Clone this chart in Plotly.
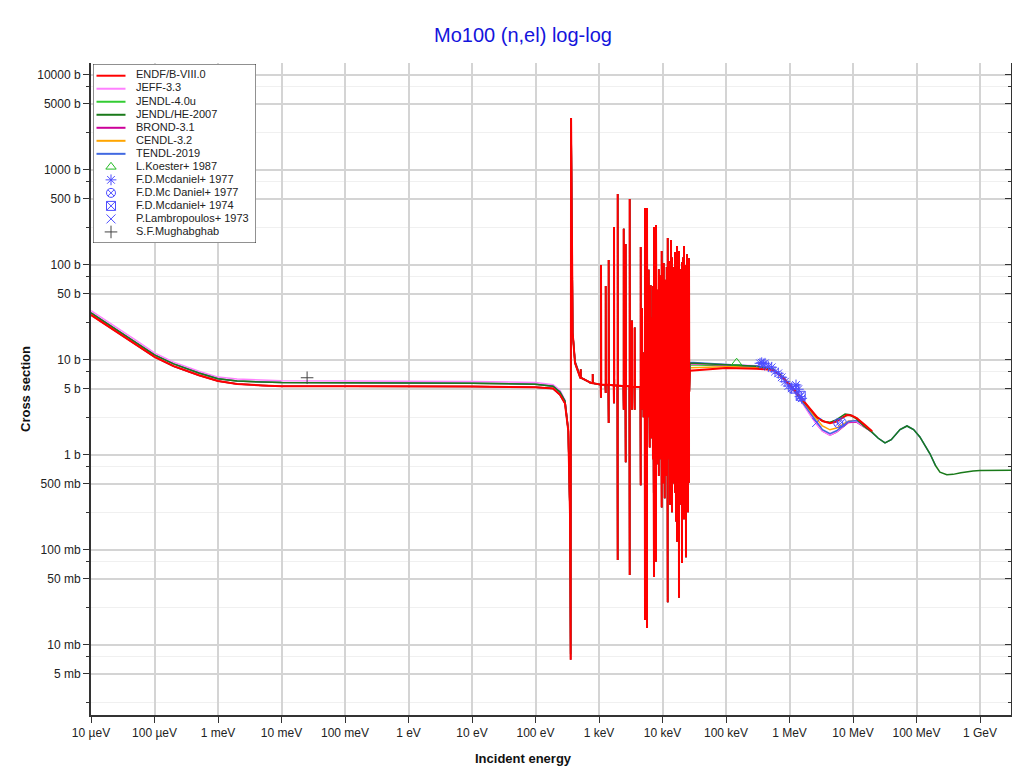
import plotly.graph_objects as go

# ---------------- data ----------------
# low-energy smooth region, energies in eV
low_E = [1e-5, 2e-5, 5e-5, 1e-4, 2e-4, 5e-4, 1e-3, 2e-3, 5e-3, 1e-2, 1e-1, 1, 10, 100,
         189, 243, 291, 328, 349, 358, 363, 385, 419, 502]
endf_low = [29.8, 22.0, 14.7, 10.8, 8.6, 6.9, 6.0, 5.6, 5.4, 5.3, 5.28, 5.27, 5.25, 5.15,
            5.0, 4.3, 3.5, 1.8, 0.245, 0.007, 3520, 19.2, 9.3, 6.6]
jeff_low = [33.0, 24.5, 16.3, 11.9, 9.5, 7.6, 6.6, 6.3, 6.1, 6.05, 6.0, 6.0, 5.95, 5.8,
            5.5, 4.8, 3.8, 1.9, 0.26, 0.008, 3500, 20.0, 9.8, 6.9]
tendl_low = [31.4, 23.2, 15.5, 11.3, 9.1, 7.3, 6.35, 6.0, 5.85, 5.78, 5.76, 5.76, 5.7, 5.55,
             5.3, 4.6, 3.7, 1.85, 0.25, 0.008, 3500, 19.6, 9.6, 6.8]

# resolved resonances: (E_start, E_res, E_end, baseline, dip, peak)  [eV, b]
res_rows = [
    (512, 515, 518, 6.5, 6.4, 8.0),
    (720, 722, 724, 5.8, 5.7, 5.8),
    (792, 796, 800, 5.7, 5.6, 7.1),
    (1064, 1075, 1086, 5.5, 4.0, 100),
    (1262, 1275, 1288, 5.5, 4.5, 60),
    (1405, 1420, 1435, 5.5, 2.17, 113),
    (1705, 1723, 1741, 5.4, 3.5, 251),
    (1950, 1970, 1990, 5.4, 0.0785, 558),
    (2424, 2449, 2474, 5.3, 3.0, 240),
    (2607, 2633, 2659, 5.3, 0.84, 166),
    (3015, 3045, 3075, 5.3, 0.0546, 495),
    (3276, 3309, 3342, 5.2, 3.0, 26),
    (3614, 3650, 3686, 5.2, 3.0, 22),
    (4490, 4536, 4582, 5.2, 0.48, 155),
    (4707, 4755, 4803, 5.2, 3.0, 35),
    (4990, 5022, 5050, 5.1, 2.5, 12),
    (5250, 5302, 5355, 5.1, 0.0183, 398),
    (5470, 5498, 5530, 5.1, 1.8, 30),
    (5640, 5700, 5760, 5.1, 0.0151, 398),
    (6000, 6062, 6120, 5.1, 2.5, 89),
    (6250, 6286, 6320, 5.0, 1.2, 45),
    (6450, 6519, 6580, 5.0, 2.84, 61),
    (6620, 6663, 6700, 5.0, 1.5, 35),
    (6760, 6831, 6900, 5.0, 2.0, 28),
    (7050, 7087, 7120, 5.0, 0.9, 60),
    (7270, 7347, 7420, 5.0, 0.052, 251),
    (7580, 7619, 7660, 5.0, 1.2, 70),
    (7820, 7898, 7980, 5.0, 0.075, 263),
    (8150, 8190, 8230, 5.0, 0.8, 40),
    (8410, 8495, 8580, 5.0, 1.5, 55),
    (8700, 8747, 8790, 4.9, 0.6, 90),
    (8940, 9035, 9120, 4.9, 1.62, 78),
    (9320, 9370, 9420, 4.9, 0.9, 60),
    (9610, 9714, 9810, 4.9, 0.28, 140),
    (10020, 10073, 10120, 4.9, 0.5, 80),
    (10340, 10445, 10550, 4.9, 1.0, 105),
    (10780, 10830, 10880, 4.9, 0.35, 70),
    (11120, 11229, 11340, 4.9, 2.17, 41),
    (11590, 11643, 11700, 4.8, 0.6, 95),
    (11950, 12075, 12200, 4.8, 0.0282, 192),
    (12280, 12340, 12400, 4.8, 0.9, 60),
    (12530, 12660, 12790, 4.8, 1.0, 110),
    (13060, 13130, 13200, 4.8, 0.3, 90),
    (13480, 13613, 13750, 4.8, 0.69, 183),
    (14040, 14110, 14180, 4.8, 0.25, 120),
    (14490, 14636, 14780, 4.8, 0.5, 75),
    (15100, 15180, 15260, 4.8, 0.6, 95),
    (15580, 15738, 15900, 4.8, 0.4, 137),
    (16240, 16320, 16400, 4.7, 0.2, 80),
    (16750, 16920, 17090, 4.7, 0.122, 158),
    (17450, 17540, 17630, 4.7, 0.5, 110),
    (18010, 18190, 18370, 4.7, 0.0314, 140),
    (18670, 18864, 19050, 4.7, 0.3, 57),
    (19460, 19560, 19660, 4.7, 0.4, 90),
    (20080, 20283, 20490, 4.7, 0.073, 107),
    (20920, 21030, 21140, 4.7, 0.5, 120),
    (21590, 21806, 22020, 4.7, 0.21, 158),
    (22500, 22610, 22720, 4.6, 0.3, 85),
    (23210, 23449, 23680, 4.6, 0.084, 100),
    (24190, 24310, 24430, 4.6, 0.4, 130),
    (25080, 25210, 25340, 4.6, 0.25, 90),
    (25880, 26145, 26400, 4.6, 0.51, 118),
]

# fast-neutron region, energies in eV
endf_fast_E = [27e3, 5e4, 1e5, 3e5, 5.56e5, 7.99e5, 1.018e6, 1.462e6, 2.1e6, 2.68e6, 3.3e6,
               4.34e6, 5.5e6, 7.96e6, 9.5e6, 1.14e7, 1.5e7, 1.97e7, 2e7]
endf_fast = [7.7, 8.0, 8.25, 8.1, 7.85, 6.42, 5.46, 4.11, 3.10, 2.53, 2.28,
             2.16, 2.25, 2.64, 2.6, 2.45, 2.1, 1.80, 1.78]

jeff_fast_E = [27e3, 1e5, 3e5, 5.56e5, 7.99e5, 1.018e6, 1.462e6, 2.1e6, 2.68e6, 3.3e6,
               4.34e6, 5.5e6, 8.5e6, 1.14e7, 1.5e7, 2e7]
jeff_fast = [9.2, 9.0, 8.7, 8.0, 6.5, 5.3, 3.85, 2.65, 2.1, 1.78, 1.62, 1.75, 2.25, 2.25, 2.0, 1.75]
brond_fast = [9.1, 8.9, 8.6, 7.95, 6.45, 5.3, 3.9, 2.7, 2.12, 1.79, 1.62, 1.74, 2.2, 2.22, 1.98, 1.74]
cendl_fast = [8.3, 8.5, 8.4, 7.9, 6.5, 5.4, 4.0, 2.9, 2.35, 2.02, 1.84, 1.92, 2.28, 2.3, 2.0, 1.75]
jendl4_fast = [8.9, 8.7, 8.5, 7.9, 6.5, 5.45, 4.1, 3.05, 2.5, 2.27, 2.2, 2.32, 2.65, 2.45, 2.05, 1.76]

tendl_fast_E = [27e3, 1e5, 3e5, 5.56e5, 7.99e5, 1.018e6, 1.462e6, 2.1e6, 2.68e6, 3.3e6, 4.34e6,
                5.5e6, 8.5e6, 1.14e7, 1.5e7, 1.97e7, 2.5e7, 3.19e7, 4e7, 5.5e7, 7.08e7, 9e7,
                1.13e8, 1.63e8, 2e8]
tendl_fast = [9.45, 8.95, 8.6, 8.0, 6.6, 5.4, 3.9, 2.75, 2.2, 1.85, 1.68,
              1.8, 2.25, 2.3, 2.05, 1.75, 1.5, 1.34, 1.45, 1.85, 2.02, 1.85,
              1.55, 1.03, 0.77]

jendlhe_fast_E = [27e3, 1e5, 3e5, 5.56e5, 7.99e5, 1.018e6, 1.462e6, 2.1e6, 2.68e6, 3.5e6, 4.34e6,
                  5.5e6, 7.5e6, 9e6, 1.14e7, 1.5e7, 1.97e7, 2.5e7, 3.19e7, 4e7, 5.5e7, 7.08e7,
                  9e7, 1.13e8, 1.63e8, 2e8, 2.34e8, 3e8, 3.76e8, 5e8, 7.76e8, 1e9, 3.1e9]
jendlhe_fast = [9.3, 8.9, 8.6, 8.0, 6.5, 5.45, 4.05, 3.0, 2.5, 2.25, 2.2,
                2.35, 2.7, 2.65, 2.4, 2.0, 1.75, 1.5, 1.34, 1.45, 1.85, 2.02,
                1.85, 1.55, 1.03, 0.77, 0.66, 0.62, 0.625, 0.65, 0.68, 0.685, 0.69]

# experimental data
mugh_E, mugh_s = [0.0253], [6.5]
koester_E, koester_s = [1.47e5], [9.36]
mcd77_E = [3.43e5, 3.65e5, 3.87e5, 4.11e5, 4.64e5, 5.24e5, 5.91e5, 6.66e5, 7.54e5, 8.49e5,
           9.57e5, 1.083e6, 1.266e6, 1.376e6, 1.463e6, 1.556e6]
mcd77_s = [9.23, 9.36, 9.07, 9.23, 8.5, 8.38, 7.53, 7.24, 6.57, 5.91,
           5.32, 5.03, 5.46, 4.92, 4.11, 3.95]
mcd77b_E, mcd77b_s = [5.87e6, 6.64e6], [2.16, 2.2]
mcd74_E, mcd74_s = [1.2e6, 1.5e6], [5.0, 4.2]
lamb_E, lamb_s = [2.68e6], [2.2]

x_tickvals = [1e-5, 1e-4, 1e-3, 1e-2, 1e-1, 1, 10, 100, 1e3, 1e4, 1e5, 1e6, 1e7, 1e8, 1e9]
x_ticktext = ["10 µeV", "100 µeV", "1 meV", "10 meV", "100 meV", "1 eV", "10 eV", "100 eV",
              "1 keV", "10 keV", "100 keV", "1 MeV", "10 MeV", "100 MeV", "1 GeV"]
y_tickvals = [0.005, 0.01, 0.05, 0.1, 0.5, 1, 5, 10, 50, 100, 500, 1000, 5000, 10000]
y_ticktext = ["5 mb", "10 mb", "50 mb", "100 mb", "500 mb", "1 b", "5 b", "10 b", "50 b",
              "100 b", "500 b", "1000 b", "5000 b", "10000 b"]
y_minor = [0.0025, 0.0075, 0.025, 0.075, 0.25, 0.75, 2.5, 7.5, 25, 75, 250, 750, 2500, 7500]

# ---------------- build curves ----------------
def resonances():
    xs, ys = [], []
    for e0, er, e1, base, dip, peak in res_rows:
        xs += [e0, er, er, e1]
        ys += [base, dip, peak, base]
    return xs, ys

rx, ry = resonances()

def curve(lowy, fE, fy):
    return low_E + rx + fE, lowy + ry + fy

FONT = "Liberation Sans, Arial, sans-serif"
COL = {"ENDF/B-VIII.0": "#ff0000", "JEFF-3.3": "#ff80ff", "JENDL-4.0u": "#33cc33",
       "JENDL/HE-2007": "#1a7a1a", "BROND-3.1": "#cc0099", "CENDL-3.2": "#ffa500",
       "TENDL-2019": "#4169e1"}
# drawing order (last on top)
libs = [
    ("JENDL-4.0u", 1.5, endf_low, jeff_fast_E, jendl4_fast),
    ("BROND-3.1", 1.5, endf_low, jeff_fast_E, brond_fast),
    ("CENDL-3.2", 1.5, tendl_low, jeff_fast_E, cendl_fast),
    ("JEFF-3.3", 1.5, jeff_low, jeff_fast_E, jeff_fast),
    ("TENDL-2019", 1.5, tendl_low, tendl_fast_E, tendl_fast),
    ("JENDL/HE-2007", 1.5, tendl_low, jendlhe_fast_E, jendlhe_fast),
    ("ENDF/B-VIII.0", 2.0, endf_low, endf_fast_E, endf_fast),
]

fig = go.Figure()
for name, w, lowy, fE, fy in libs:
    xs, ys = curve(lowy, fE, fy)
    fig.add_trace(go.Scatter(x=xs, y=ys, mode="lines", name=name, showlegend=False,
                             line=dict(color=COL[name], width=w)))

exp = [
    ("L.Koester+ 1987", koester_E, koester_s, "triangle-up-open", "#22bb22"),
    ("F.D.Mcdaniel+ 1977", mcd77_E, mcd77_s, "asterisk-open", "#4d4dff"),
    ("F.D.Mc Daniel+ 1977", mcd77b_E, mcd77b_s, "circle-x-open", "#4d4dff"),
    ("F.D.Mcdaniel+ 1974", mcd74_E, mcd74_s, "square-x-open", "#4d4dff"),
    ("P.Lambropoulos+ 1973", lamb_E, lamb_s, "x-thin-open", "#4d4dff"),
    ("S.F.Mughabghab", mugh_E, mugh_s, "cross-thin-open", "#444444"),
]
for name, ex, ey, sym, col in exp:
    fig.add_trace(go.Scatter(x=ex, y=ey, mode="markers", name=name, showlegend=False,
                             marker=dict(symbol=sym, size=9, color=col,
                                         line=dict(color=col, width=1))))

# dummy trace for the right-hand mirrored axis
fig.add_trace(go.Scatter(x=[1], y=[1], yaxis="y2", mode="markers", showlegend=False,
                         hoverinfo="skip", marker=dict(opacity=0)))

# ---------------- compact legend drawn on its own axes ----------------
order_lines = ["ENDF/B-VIII.0", "JEFF-3.3", "JENDL-4.0u", "JENDL/HE-2007", "BROND-3.1",
               "CENDL-3.2", "TENDL-2019"]
OFF = 8                      # browser body margin
L, T = 91 - OFF, 63 - OFF    # plot area origin inside the figure
W, H = 1020 - OFF, 774 - OFF
PW, PH = 920, 652
R, B = W - L - PW, H - T - PH

LX0, LX1 = 93 - OFF, 256 - OFF
LY0, LY1 = 64 - OFF, 243 - OFF
fig.add_trace(go.Scatter(x=[LX0, LX1, LX1, LX0, LX0], y=[12.85, 12.85, -0.9, -0.9, 12.85],
                         xaxis="x3", yaxis="y3", mode="lines", fill="toself",
                         fillcolor="white", line=dict(color="#222", width=1),
                         showlegend=False, hoverinfo="skip"))
for i, nm in enumerate(order_lines):
    fig.add_trace(go.Scatter(x=[LX0 + 3.5, LX0 + 32.5], y=[i, i], xaxis="x3", yaxis="y3",
                             mode="lines", line=dict(color=COL[nm], width=2),
                             showlegend=False, hoverinfo="skip"))
for j, (name, ex, ey, sym, col) in enumerate(exp):
    fig.add_trace(go.Scatter(x=[LX0 + 18], y=[len(order_lines) + j], xaxis="x3", yaxis="y3",
                             mode="markers", showlegend=False, hoverinfo="skip",
                             marker=dict(symbol=sym, size=9, color=col,
                                         line=dict(color=col, width=1))))
all_names = order_lines + [e[0] for e in exp]
fig.add_trace(go.Scatter(x=[LX0 + 43] * len(all_names), y=list(range(len(all_names))),
                         xaxis="x3", yaxis="y3", mode="text", text=all_names,
                         textposition="middle right",
                         textfont=dict(family=FONT, size=11, color="#222"),
                         showlegend=False, hoverinfo="skip"))

fig.update_layout(
    width=W, height=H,
    margin=dict(l=L, r=R, t=T, b=B, autoexpand=False),
    paper_bgcolor="white", plot_bgcolor="white",
    font=dict(family=FONT, size=12, color="#222"),
    title=dict(text="Mo100 (n,el) log-log", x=(523 - OFF) / W, xanchor="center",
               y=1 - (35 - OFF) / H, yanchor="middle",
               font=dict(family=FONT, size=20, color="#1414dc")),
    showlegend=False,
    xaxis=dict(type="log", range=[-5, 9.488], tickvals=x_tickvals, ticktext=x_ticktext,
               showgrid=True, gridcolor="#d4d4d4", gridwidth=1.5,
               showline=True, linecolor="#333", linewidth=2, ticks="outside",
               ticklen=6, tickcolor="#333", tickfont=dict(size=12), zeroline=False),
    yaxis=dict(type="log", range=[-2.737, 4.126], tickvals=y_tickvals, ticktext=y_ticktext,
               showgrid=True, gridcolor="#d4d4d4", gridwidth=1.5,
               showline=True, linecolor="#333", linewidth=2, ticks="outside",
               ticklen=6, tickcolor="#333", tickfont=dict(size=12),
               minor=dict(tickmode="array", tickvals=y_minor, showgrid=True,
                          gridcolor="#f0f0f0", gridwidth=1, ticks="outside", ticklen=3,
                          tickcolor="#333"), zeroline=False),
    yaxis2=dict(type="log", range=[-2.737, 4.126], overlaying="y", side="right", anchor="x",
                tickvals=y_tickvals, showticklabels=False, showgrid=False,
                showline=True, linecolor="#333", linewidth=2.5, ticks="inside", ticklen=6,
                tickcolor="#333",
                minor=dict(tickmode="array", tickvals=y_minor, ticks="inside", ticklen=3,
                           tickcolor="#333", showgrid=False), zeroline=False),
    xaxis3=dict(domain=[(LX0 - L) / PW, (LX1 - L) / PW], anchor="y3", range=[LX0, LX1],
                visible=False, fixedrange=True),
    yaxis3=dict(domain=[(T + PH - LY1) / PH, (T + PH - LY0) / PH], anchor="x3",
                range=[12.85, -0.9], visible=False, fixedrange=True),
    annotations=[
        dict(text="<b>Cross section</b>", x=(25 - OFF - L) / PW, xref="paper",
             xanchor="center", y=0.5, yref="paper", textangle=-90, showarrow=False,
             font=dict(family=FONT, size=13, color="#111")),
        dict(text="<b>Incident energy</b>", x=(523 - OFF - L) / PW, xref="paper",
             xanchor="center", y=-(758 - 715) / PH, yref="paper", yanchor="middle",
             showarrow=False, font=dict(family=FONT, size=13, color="#111")),
    ],
)

fig.write_html("out.html")
